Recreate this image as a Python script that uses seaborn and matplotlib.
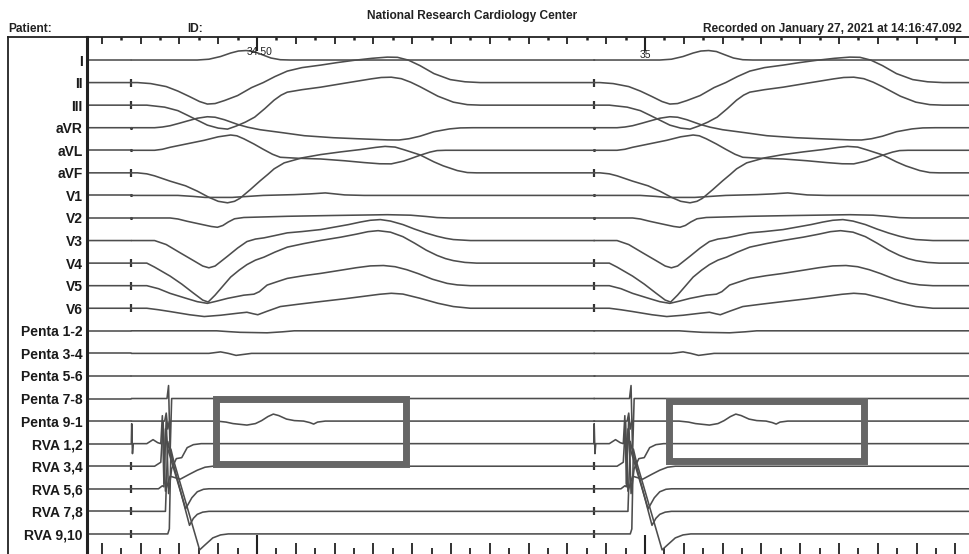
import matplotlib
matplotlib.use("Agg")
import matplotlib.pyplot as plt
import pandas as pd
import seaborn as sns
from matplotlib.patches import Rectangle
from matplotlib.ticker import MultipleLocator

sns.set_theme(style="white")
plt.rcParams["font.family"] = ["Liberation Sans", "DejaVu Sans"]

# --- datos: una plantilla por canal, (ms desde la espiga de estimulacion, amplitud)
# amplitud en "px de registro": la separacion entre canales es ROW_GAP
ROW_GAP = 22.6
BEAT_TIMES = [33.741, 34.338, 34.934]  # s (el primero solo asoma por la izquierda)

LEAD_I = [(0, 0), (85, 0), (100, 0.8), (115, 3.5), (128, 7), (138, 9), (148, 9.5), (158, 8.5),
          (168, 5.5), (180, 2), (192, 0.3), (205, 0), (597, 0)]
LEAD_II = [(0, 0), (8, 0), (25, -1), (45, -4), (60, -8.5), (75, -14), (88, -19), (98, -21.5),
           (108, -21), (120, -18), (137, -13), (155, -5), (170, 0), (185, 6), (201, 11.5),
           (220, 15), (244, 17.5), (265, 20), (287, 22.3), (310, 24.3), (330, 25.5), (343, 25.3),
           (357, 22.5), (372, 17), (390, 9), (411, 3), (430, 0.8), (450, 0), (597, 0)]
LEAD_III = [(0, 0), (20, 0), (43, -2), (60, -5.5), (72, -10), (85, -15), (98, -20), (112, -23),
            (124, -24), (135, -21), (147, -17), (159, -12), (172, -3.5), (184, 5), (193, 10),
            (201, 13), (220, 15.5), (244, 18), (275, 22), (309, 26.3), (322, 27.7), (335, 28),
            (348, 26.5), (360, 23), (372, 18.5), (395, 9), (415, 3), (433, 0.5), (450, 0),
            (597, 0)]
LEAD_AVR = [(0, 0), (30, 0), (40, 0.7), (50, 2), (62, 4.5), (72, 6.7), (85, 9.5), (98, 11),
            (108, 10.5), (120, 8), (137, 3.3), (150, 0.5), (166, -2), (195, -5), (223, -8),
            (260, -10), (290, -11), (330, -12.2), (345, -12.3), (358, -11), (372, -8.5),
            (390, -4), (410, -1.2), (424, -0.2), (440, 0), (597, 0)]
LEAD_AVL = [(0, 0), (30, 0), (40, 1), (50, 3), (72, 6.5), (94, 10), (112, 13.5), (128, 15.3),
            (136, 14.5), (145, 11.5), (158, 6.3), (170, 1), (182, -4), (192, -7), (215, -8),
            (244, -8.7), (275, -10.5), (300, -12.3), (320, -13.5), (335, -13.6), (351, -10.8),
            (362, -7.8), (372, -5), (385, -1.8), (394, -0.3), (405, 0), (597, 0)]
LEAD_AVF = [(0, 0), (8, 0), (20, -1), (30, -3), (50, -8.3), (70, -13), (85, -18.3), (100, -24.5),
            (112, -28.5), (124, -30), (133, -28.5), (140, -25.5), (153, -17), (166, -8),
            (176, -1.5), (184, 4), (197, 10), (220, 15), (244, 18.3), (270, 21), (295, 23.3),
            (315, 25.5), (327, 26.5), (340, 25.8), (352, 23), (372, 18), (390, 11), (402, 7),
            (420, 2.3), (433, 0.3), (445, 0), (597, 0)]
LEAD_V1 = [(0, 0), (60, 0), (80, -1), (95, -2), (130, -2), (170, 0), (210, 0.8), (230, 1.5),
           (250, 2.5), (275, 0.5), (300, 0), (597, 0)]
LEAD_V2 = [(0, 0), (50, 0), (60, -1), (72, -3.3), (88, -6), (103, -8.5), (111, -9.3), (118, -7.5),
           (125, -4), (133, -0.8), (145, 0.5), (201, 1.7), (260, 2.5), (330, 3.3), (360, 2.8),
           (380, 1.5), (394, 0.4), (410, 0), (597, 0)]
LEAD_V3 = [(0, 0), (30, 0), (45, -4), (63, -12.3), (80, -20), (92, -25.5), (100, -27.3),
           (108, -25.5), (124, -15.7), (137, -7.5), (149, -1), (160, 1.5), (171, 2.7), (185, 5),
           (201, 7.7), (220, 9), (244, 11), (262, 13.5), (280, 16), (295, 18.5), (308, 20.3),
           (321, 21), (334, 19.5), (350, 16), (365, 11.5), (380, 7.5), (394, 4.3), (405, 2.3),
           (415, 1), (437, 0), (597, 0)]
LEAD_V4 = [(0, 0), (20, 0), (30, -4), (50, -13), (65, -21), (80, -30), (92, -37), (99, -39),
           (108, -32), (118, -23), (128, -14), (139, -7), (149, -1.5), (160, 3), (171, 6),
           (185, 11), (201, 16), (222, 19.5), (244, 22.7), (270, 26), (290, 29), (305, 31.5),
           (318, 32.5), (334, 31), (350, 26.5), (365, 20), (380, 13), (394, 7.7), (405, 4.5),
           (415, 2.5), (430, 0.7), (445, 0), (597, 0)]
LEAD_V5 = [(0, 0), (20, 0), (35, -3), (50, -7.7), (70, -12.5), (85, -16), (98, -17.7),
           (110, -15.5), (124, -12.7), (145, -9.5), (158, -8.5), (165, -6), (175, 0.6), (188, 4),
           (201, 7.3), (222, 10), (244, 12.3), (270, 15.5), (290, 18), (308, 19.8), (325, 20.2),
           (340, 19), (355, 16), (370, 12), (388, 6.5), (407, 2.3), (420, 0.8), (437, 0),
           (597, 0)]
LEAD_V6 = [(0, 0), (20, 0), (35, -1.5), (50, -3.3), (75, -6.5), (94, -8.3), (115, -7),
           (137, -5), (149, -4), (157, -5.5), (163, -6.5), (175, -3), (192, 1.7), (215, 4),
           (244, 6.7), (275, 9.5), (300, 12), (320, 14), (335, 15), (350, 14.2), (372, 10),
           (395, 5), (415, 1.7), (437, 0), (597, 0)]
PENTA_12 = [(0, 0), (110, 0), (125, -0.8), (140, -1.5), (175, -2), (195, -1), (210, 0), (597, 0)]
PENTA_34 = [(0, 0), (100, 0), (115, 1.5), (125, 0), (135, -2), (145, -1), (155, 0), (597, 0)]
PENTA_56 = [(0, 0), (597, 0)]
PENTA_78 = [(0, 0), (46, 0), (48, 13), (50, -55), (52, 0), (597, 0)]
PENTA_91 = [(0, 0), (43, 0), (45, 8), (47, -8), (49, 0), (110, 0), (122, -1), (131, -2.5),
            (149, -4), (160, -2.5), (168, 0.5), (176, 4.5), (183, 7), (190, 5.5), (200, 2),
            (210, 0.5), (222, 0), (230, -1.5), (235, -3), (240, -1), (250, 0), (597, 0)]
RVA_12 = [(0, 0), (0.5, 20), (1.5, -10), (2.5, 0), (20, 0), (24, 2), (28, 4), (34, 1), (38, 0),
          (40, 28), (42, -40), (45, 25), (48, -50), (52, -25), (58, -15), (65, -14), (72, -4),
          (80, -1), (90, 0), (597, 0)]
RVA_34 = [(0, 0), (30, 0), (38, 4), (41, 45), (44, -25), (50, -10), (63, -13), (75, -8),
          (85, -4), (95, -1), (105, 0), (597, 0)]
RVA_56 = [(0, 0), (35, 0), (40, 3), (42, 2), (44, 60), (47, 40), (70, -20), (78, -9), (85, -3),
          (93, -0.5), (100, 0), (597, 0)]
RVA_78 = [(0, 0), (44, 0), (47, 70), (50, 60), (75, -14), (80, -7), (85, -3), (92, -0.8),
          (100, 0), (597, 0)]
RVA_910 = [(0, 0), (47, 0), (49, 5), (51, 85), (54, 75), (88, -16), (95, -11), (105, -4),
           (115, -1), (125, 0), (597, 0)]

LEADS = ["I", "II", "III", "aVR", "aVL", "aVF", "V1", "V2", "V3", "V4", "V5", "V6",
         "Penta 1-2", "Penta 3-4", "Penta 5-6", "Penta 7-8", "Penta 9-1",
         "RVA 1,2", "RVA 3,4", "RVA 5,6", "RVA 7,8", "RVA 9,10"]
TEMPLATES = [LEAD_I, LEAD_II, LEAD_III, LEAD_AVR, LEAD_AVL, LEAD_AVF, LEAD_V1, LEAD_V2,
             LEAD_V3, LEAD_V4, LEAD_V5, LEAD_V6, PENTA_12, PENTA_34, PENTA_56, PENTA_78,
             PENTA_91, RVA_12, RVA_34, RVA_56, RVA_78, RVA_910]
# marcas de estimulacion: palito en unos canales, punto en otros
PACE_TICK = ["II", "III", "aVF", "V4", "V5", "V6", "RVA 3,4", "RVA 5,6", "RVA 7,8", "RVA 9,10"]
PACE_DOT = ["aVR", "aVL", "V1", "V2"]

# cajas grises (inicio s, fin s) y (canal superior, canal inferior)
BOX_T = [(34.4465, 34.6914), (35.0303, 35.2816)]
BOX_ROWS = [(15.0, 17.92), (15.09, 17.77)]

# --- armado del DataFrame largo
filas = []
for fila, (lead, tpl) in enumerate(zip(LEADS, TEMPLATES)):
    for b, t0 in enumerate(BEAT_TIMES):
        for ms, amp in tpl:
            filas.append({"t": t0 + ms / 1000, "y": fila - amp / ROW_GAP,
                          "unit": f"{lead}-{b}"})
df = pd.DataFrame(filas)

palitos = pd.DataFrame([{"t": t0, "y": LEADS.index(l)} for t0 in BEAT_TIMES for l in PACE_TICK])
puntos = pd.DataFrame([{"t": t0, "y": LEADS.index(l)} for t0 in BEAT_TIMES for l in PACE_DOT])

fig = plt.figure(figsize=(9.7, 5.54), dpi=100)
ax = fig.add_axes([87 / 970, 0, 883 / 970, 517 / 554])
sns.lineplot(data=df, x="t", y="y", units="unit", estimator=None, sort=False,
             color="#4d4d4d", lw=1.15, legend=False, ax=ax)
sns.scatterplot(data=palitos, x="t", y="y", marker="|", s=35, linewidth=1.6,
                color="#333333", legend=False, ax=ax)
sns.scatterplot(data=puntos, x="t", y="y", marker="o", s=5, linewidth=0,
                color="#333333", legend=False, ax=ax)

for (t0, t1), (r0, r1) in zip(BOX_T, BOX_ROWS):
    ax.add_patch(Rectangle((t0, r0), t1 - t0, r1 - r0, fill=False,
                           edgecolor="#666666", lw=5, zorder=5))

ax.set_xlim(34.2809, 35.4188)
ax.set_ylim(21.89, -1.02)
ax.set_xlabel("")
ax.set_ylabel("")
ax.set_yticks(range(len(LEADS)))
ax.set_yticklabels(LEADS, fontsize=10, fontweight="bold", color="#1a1a1a")
ax.tick_params(axis="y", length=0, pad=3)

for lado in ["right", "bottom"]:
    ax.spines[lado].set_visible(False)
ax.spines["left"].set_linewidth(2.2)
ax.spines["top"].set_linewidth(1.3)
ax.spines["left"].set_color("#222222")
ax.spines["top"].set_color("#222222")

# regla superior
ax.xaxis.set_major_locator(MultipleLocator(0.05))
ax.xaxis.set_minor_locator(MultipleLocator(0.025))
ax.tick_params(axis="x", which="major", top=True, bottom=False, direction="in",
               length=5, width=1.3, color="#222222", labeltop=False, labelbottom=False)
ax.tick_params(axis="x", which="minor", top=True, bottom=False, direction="in",
               length=2, width=1.8, color="#222222")

arriba = ax.secondary_xaxis("top")
arriba.set_xticks([34.5, 35.0])
arriba.tick_params(direction="in", length=10, width=1.5, color="#222222", labeltop=False)
arriba.spines["top"].set_visible(False)

# regla inferior
abajo = ax.secondary_xaxis("bottom")
abajo.xaxis.set_major_locator(MultipleLocator(0.05))
abajo.xaxis.set_minor_locator(MultipleLocator(0.025))
abajo.tick_params(which="major", direction="in", length=8, width=1.3, color="#222222",
                  labelbottom=False)
abajo.tick_params(which="minor", direction="in", length=4, width=1.3, color="#222222")
abajo.spines["bottom"].set_visible(False)
abajo2 = ax.secondary_xaxis("bottom")
abajo2.set_xticks([34.5, 35.0])
abajo2.tick_params(direction="in", length=14, width=1.5, color="#222222", labelbottom=False)
abajo2.spines["bottom"].set_visible(False)

trans = ax.get_xaxis_transform()
ax.text(34.5035, 0.971, "34.50", transform=trans, fontsize=7.5, ha="center", va="center",
        color="#222222")
ax.text(35.001, 0.966, "35", transform=trans, fontsize=7.5, ha="center", va="center",
        color="#222222")

# marco de etiquetas
marco = fig.add_axes([8 / 970, 0, 79 / 970, 517 / 554])
marco.set_xticks([])
marco.set_yticks([])
marco.patch.set_alpha(0)
for lado in ["right", "bottom"]:
    marco.spines[lado].set_visible(False)
for lado in ["left", "top"]:
    marco.spines[lado].set_linewidth(1.3)
    marco.spines[lado].set_color("#222222")

# encabezado
fig.text(8 / 970, 1 - 29 / 554, "Patient:", fontsize=8.6, fontweight="bold", va="center",
         color="#222222")
fig.text(187 / 970, 1 - 29 / 554, "ID:", fontsize=8.6, fontweight="bold", va="center",
         color="#222222")
fig.text(472 / 970, 1 - 16 / 554, "National Research Cardiology Center", fontsize=8.6,
         fontweight="bold", ha="center", va="center", color="#222222")
fig.text(703 / 970, 1 - 29 / 554, "Recorded on January 27, 2021 at 14:16:47.092",
         fontsize=8.6, fontweight="bold", va="center", color="#222222")

fig.savefig("out.png", dpi=100)
